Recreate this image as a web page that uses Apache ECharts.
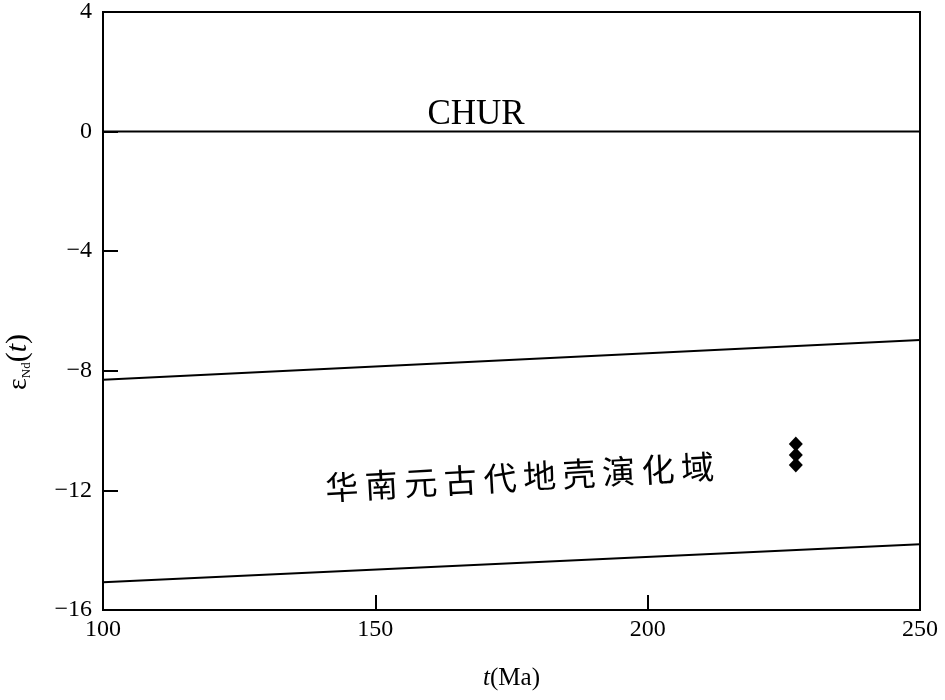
<!DOCTYPE html>
<html>
<head>
<meta charset="utf-8">
<script src="https://cdn.jsdelivr.net/npm/echarts@6/dist/echarts.min.js"></script>
<style>
  html, body { margin: 0; padding: 0; background: #fff; }
  #main { width: 945px; height: 700px; }
</style>
</head>
<body>
<div id="main"></div>
<script>
// 参考线与样品数据
var churLine = [[100, 0], [250, 0]];
var upperBound = [[100, -8.3], [250, -6.97]];
var lowerBound = [[100, -15.07], [250, -13.8]];
var samples = [[227.2, -10.45], [227.2, -10.82], [227.2, -11.15]];
var churLabelPos = [[168.5, 0.55]];
var fieldLabelPos = [[176.5, -11.55]];
var fieldLabel = '华\u2009南\u2009元\u2009古\u2009代\u2009地\u2009壳\u2009演\u2009化\u2009域';

var serif = '"Liberation Serif", "DejaVu Serif", serif';

var chart = echarts.init(document.getElementById('main'));

var option = {
  animation: false,
  backgroundColor: '#fff',
  grid: {
    left: 103, right: 25, top: 8, bottom: 90,
    show: true, borderColor: '#000', borderWidth: 2
  },
  xAxis: {
    type: 'value',
    min: 100, max: 250, interval: 50,
    name: '{i|t}(Ma)',
    nameLocation: 'middle',
    nameGap: 56,
    nameTextStyle: {
      fontFamily: serif, fontSize: 25, color: '#000',
      rich: { i: { fontFamily: serif, fontSize: 25, fontStyle: 'italic', color: '#000' } }
    },
    axisLine: { onZero: false, lineStyle: { color: '#000', width: 2 } },
    axisTick: { inside: true, length: 15, lineStyle: { color: '#000', width: 2 } },
    axisLabel: { fontFamily: serif, fontSize: 24, color: '#000', margin: 8 },
    splitLine: { show: false }
  },
  yAxis: {
    type: 'value',
    min: -16, max: 4, interval: 4,
    axisLine: { lineStyle: { color: '#000', width: 2 } },
    axisTick: { inside: true, length: 15, lineStyle: { color: '#000', width: 2 } },
    axisLabel: {
      fontFamily: serif, fontSize: 24, color: '#000', margin: 11,
      formatter: function (v) { return String(v).replace('-', '−'); }
    },
    splitLine: { show: false }
  },
  graphic: [{
    type: 'text',
    x: 18, y: 362,
    rotation: Math.PI / 2,
    style: {
      text: '{e|ε}{s|Nd}{n|(}{i|t}{n|)}',
      align: 'center', verticalAlign: 'middle',
      fill: '#000',
      rich: {
        e: { fontFamily: serif, fontSize: 28, fill: '#000', verticalAlign: 'bottom' },
        s: { fontFamily: serif, fontSize: 13, fill: '#000', verticalAlign: 'bottom' },
        n: { fontFamily: serif, fontSize: 30, fill: '#000', verticalAlign: 'bottom' },
        i: { fontFamily: serif, fontSize: 30, fontStyle: 'italic', fill: '#000', verticalAlign: 'bottom' }
      }
    }
  }],
  series: [
    {
      type: 'line', data: churLine, symbol: 'none',
      lineStyle: { color: '#000', width: 2 }
    },
    {
      type: 'line', data: upperBound, symbol: 'none',
      lineStyle: { color: '#000', width: 2 }
    },
    {
      type: 'line', data: lowerBound, symbol: 'none',
      lineStyle: { color: '#000', width: 2 }
    },
    {
      type: 'scatter', data: samples, symbol: 'diamond', symbolSize: [14, 15],
      itemStyle: { color: '#000', opacity: 1 }
    },
    {
      type: 'scatter', data: churLabelPos, symbolSize: 0, silent: true,
      itemStyle: { opacity: 1 },
      label: {
        show: true, position: 'inside', formatter: 'CHUR',
        fontFamily: serif, fontSize: 35, color: '#000', opacity: 1
      }
    },
    {
      type: 'scatter', data: fieldLabelPos, symbolSize: 0, silent: true,
      itemStyle: { opacity: 1 },
      label: {
        show: true, position: 'inside', formatter: fieldLabel, rotate: 3.2,
        fontFamily: '"Noto Sans CJK SC", sans-serif', fontSize: 33, color: '#000', opacity: 1
      }
    }
  ]
};

chart.setOption(option);
</script>
</body>
</html>
